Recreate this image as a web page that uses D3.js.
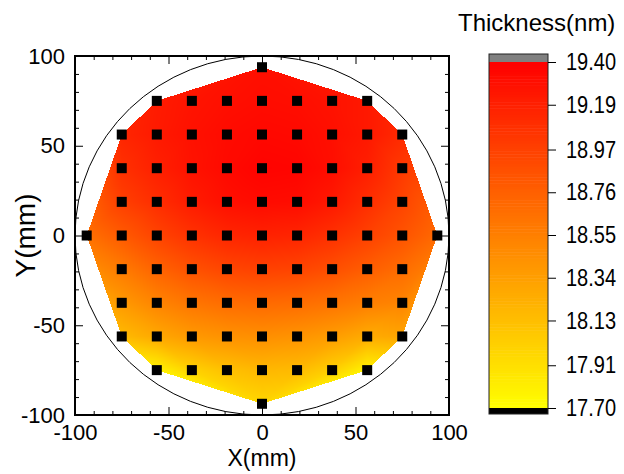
<!DOCTYPE html>
<html>
<head>
<meta charset="utf-8">
<script src="https://cdn.jsdelivr.net/npm/d3@7"></script>
<style>
  body { margin: 0; background: #fff; }
  svg { display: block; }
  text { font-family: "Liberation Sans", Arial, sans-serif; fill: #000; }
</style>
</head>
<body>
<svg id="chart" width="624" height="474"></svg>
<script>
// measurement grid (mm)
const gridX = [-75, -56.25, -37.5, -18.75, 0, 18.75, 37.5, 56.25, 75];
const gridY = [56.25, 37.5, 18.75, 0, -18.75, -37.5, -56.25];
// thickness (nm), one row per gridY value
const thickness = [
  [19.15, 19.23, 19.29, 19.33, 19.35, 19.34, 19.30, 19.24, 19.12],
  [19.08, 19.19, 19.28, 19.34, 19.38, 19.37, 19.31, 19.20, 19.02],
  [18.98, 19.10, 19.22, 19.30, 19.33, 19.32, 19.24, 19.10, 18.95],
  [18.80, 18.95, 19.07, 19.15, 19.18, 19.16, 19.08, 18.97, 18.85],
  [18.58, 18.74, 18.86, 18.94, 18.97, 18.95, 18.88, 18.78, 18.68],
  [18.38, 18.52, 18.62, 18.68, 18.70, 18.68, 18.63, 18.56, 18.52],
  [18.16, 18.28, 18.38, 18.43, 18.45, 18.42, 18.36, 18.26, 18.30]
];
// rows at y = +75 and y = -75
const outerX = [-56.25, -37.5, -18.75, 0, 18.75, 37.5, 56.25];
const topRow = [19.22, 19.27, 19.30, 19.32, 19.31, 19.28, 19.24];
const bottomRow = [17.78, 18.00, 18.12, 18.18, 18.16, 18.02, 17.78];
// the four edge points
const tipX = [0, -93.75, 93.75, 0];
const tipY = [93.75, 0, 0, -93.75];
const tipV = [19.30, 18.65, 18.70, 17.97];

const xTicks = [-100, -50, 0, 50, 100];
const yTicks = [-100, -50, 0, 50, 100];
const minorTicks = [-90, -80, -70, -60, -40, -30, -20, -10, 10, 20, 30, 40, 60, 70, 80, 90];
const cbTicks = [17.70, 17.91, 18.13, 18.34, 18.55, 18.76, 18.97, 19.19, 19.40];
const cbMin = 17.70, cbMax = 19.40;

const W = 624, H = 474;
const svg = d3.select('#chart');

let points = [];
gridY.forEach((gy, i) => gridX.forEach((gx, j) => points.push({x: gx, y: gy, v: thickness[i][j]})));
outerX.forEach((gx, j) => {
  points.push({x: gx, y: 75, v: topRow[j]});
  points.push({x: gx, y: -75, v: bottomRow[j]});
});
tipX.forEach((tx, i) => points.push({x: tx, y: tipY[i], v: tipV[i]}));

let x = d3.scaleLinear().domain([-100, 100]).range([75, 449]);
let y = d3.scaleLinear().domain([-100, 100]).range([415, 56]);

let color = d3.scaleLinear()
  .domain([cbMin, cbMax])
  .range(['#ffff00', '#ff0000'])
  .clamp(true);

// contour fill: linear interpolation on delaunay triangles, drawn to a canvas
const canvas = document.createElement('canvas');
canvas.width = W;
canvas.height = H;
const ctx = canvas.getContext('2d');
const img = ctx.createImageData(W, H);
const del = d3.Delaunay.from(points, d => d.x, d => d.y);
const tri = del.triangles;

for (let t = 0; t < tri.length; t += 3) {
  const a = points[tri[t]], b = points[tri[t + 1]], c = points[tri[t + 2]];
  const ax = x(a.x), ay = y(a.y), bx = x(b.x), by = y(b.y), cx = x(c.x), cy = y(c.y);
  const det = (by - cy) * (ax - cx) + (cx - bx) * (ay - cy);
  if (Math.abs(det) < 1e-9) continue;
  const x0 = Math.floor(Math.min(ax, bx, cx)), x1 = Math.ceil(Math.max(ax, bx, cx));
  const y0 = Math.floor(Math.min(ay, by, cy)), y1 = Math.ceil(Math.max(ay, by, cy));
  for (let py = y0; py <= y1; py++) {
    for (let px = x0; px <= x1; px++) {
      const sx = px + 0.5, sy = py + 0.5;
      const l1 = ((by - cy) * (sx - cx) + (cx - bx) * (sy - cy)) / det;
      const l2 = ((cy - ay) * (sx - cx) + (ax - cx) * (sy - cy)) / det;
      const l3 = 1 - l1 - l2;
      if (l1 < -1e-6 || l2 < -1e-6 || l3 < -1e-6) continue;
      const v = l1 * a.v + l2 * b.v + l3 * c.v;
      const col = d3.rgb(color(v));
      const k = (py * W + px) * 4;
      img.data[k] = col.r;
      img.data[k + 1] = col.g;
      img.data[k + 2] = col.b;
      img.data[k + 3] = 255;
    }
  }
}
ctx.putImageData(img, 0, 0);

svg.append('image')
  .attr('href', canvas.toDataURL())
  .attr('x', 0).attr('y', 0)
  .attr('width', W).attr('height', H);

// wafer outline
svg.append('ellipse')
  .attr('cx', x(0)).attr('cy', y(0))
  .attr('rx', x(100) - x(0)).attr('ry', y(0) - y(100))
  .attr('fill', 'none')
  .attr('stroke', '#000')
  .attr('stroke-width', 1);

// axes
const addAxis = (axis, tx, ty) => {
  const g = svg.append('g')
    .attr('transform', 'translate(' + tx + ',' + ty + ')')
    .call(axis);
  g.select('.domain').remove();
  g.selectAll('.tick line').attr('stroke', '#000').attr('stroke-width', 1);
  g.selectAll('.tick text').style('font-size', '22px').attr('fill', '#000');
  return g;
};

const plain = d => String(d);

addAxis(d3.axisBottom(x).tickValues(xTicks).tickSize(-8).tickPadding(9).tickFormat(plain), 0, 415);
addAxis(d3.axisBottom(x).tickValues(minorTicks).tickSize(-4).tickFormat(''), 0, 415);
addAxis(d3.axisTop(x).tickValues(xTicks).tickSize(-8).tickFormat(''), 0, 56);
addAxis(d3.axisTop(x).tickValues(minorTicks).tickSize(-4).tickFormat(''), 0, 56);
addAxis(d3.axisLeft(y).tickValues(yTicks).tickSize(-8).tickPadding(10).tickFormat(plain), 75, 0);
addAxis(d3.axisLeft(y).tickValues(minorTicks).tickSize(-4).tickFormat(''), 75, 0);
addAxis(d3.axisRight(y).tickValues(yTicks).tickSize(-8).tickFormat(''), 449, 0);
addAxis(d3.axisRight(y).tickValues(minorTicks).tickSize(-4).tickFormat(''), 449, 0);

svg.append('rect')
  .attr('x', x(-100)).attr('y', y(100))
  .attr('width', x(100) - x(-100)).attr('height', y(-100) - y(100))
  .attr('fill', 'none')
  .attr('stroke', '#000')
  .attr('stroke-width', 2);

// measurement points
svg.append('g')
  .selectAll('rect')
  .data(points)
  .join('rect')
  .attr('x', d => x(d.x) - 5)
  .attr('y', d => y(d.y) - 5)
  .attr('width', 10)
  .attr('height', 10)
  .attr('fill', '#000');

// axis titles
svg.append('text')
  .attr('x', x(0)).attr('y', 466)
  .attr('text-anchor', 'middle')
  .style('font-size', '23px')
  .text('X(mm)');

svg.append('text')
  .attr('transform', 'translate(35,' + y(0) + ') rotate(-90)')
  .attr('text-anchor', 'middle')
  .style('font-size', '28px')
  .text('Y(mm)');

// colour bar
let cbY = d3.scaleLinear().domain([cbMin, cbMax]).range([408, 62]);
const cbX = 489, cbW = 59;
const cb = svg.append('g');

const bands = d3.range(0, 120);
const step = (cbMax - cbMin) / bands.length;
cb.selectAll('rect.band')
  .data(bands)
  .join('rect')
  .attr('class', 'band')
  .attr('x', cbX)
  .attr('y', d => cbY(cbMin + (d + 1) * step))
  .attr('width', cbW)
  .attr('height', d => cbY(cbMin + d * step) - cbY(cbMin + (d + 1) * step) + 0.5)
  .attr('fill', d => color(cbMin + (d + 0.5) * step));

cb.append('rect')
  .attr('x', cbX).attr('y', cbY(cbMax) - 8)
  .attr('width', cbW).attr('height', 8)
  .attr('fill', '#808080');

cb.append('rect')
  .attr('x', cbX).attr('y', cbY(cbMin))
  .attr('width', cbW).attr('height', 6)
  .attr('fill', '#000');

cb.append('rect')
  .attr('x', cbX).attr('y', cbY(cbMax) - 8)
  .attr('width', cbW).attr('height', cbY(cbMin) + 6 - (cbY(cbMax) - 8))
  .attr('fill', 'none')
  .attr('stroke', '#222')
  .attr('stroke-width', 1);

const cbAxis = svg.append('g')
  .attr('transform', 'translate(' + (cbX + cbW) + ',0)')
  .call(d3.axisRight(cbY).tickValues(cbTicks).tickSize(8).tickFormat(''));
cbAxis.select('.domain').remove();
cbAxis.selectAll('.tick line').attr('stroke', '#000');

svg.append('g')
  .selectAll('text')
  .data(cbTicks)
  .join('text')
  .attr('transform', d => 'translate(566,' + cbY(d) + ') scale(0.87,1)')
  .attr('dy', '0.35em')
  .style('font-size', '23px')
  .text(d => d.toFixed(2));

svg.append('text')
  .attr('x', 458).attr('y', 31)
  .style('font-size', '24px')
  .text('Thickness(nm)');
</script>
</body>
</html>
